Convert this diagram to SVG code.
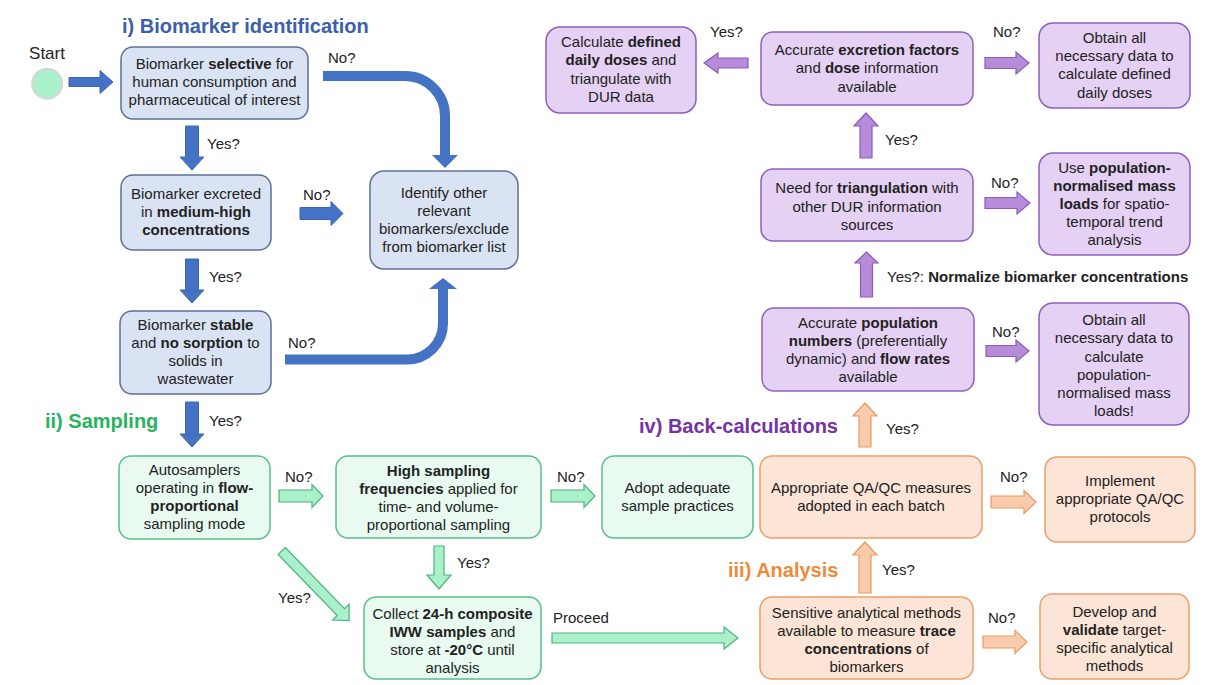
<svg xmlns="http://www.w3.org/2000/svg" width="1208" height="685" viewBox="0 0 1208 685">
  <style>
    text { font-family: "Liberation Sans", Arial, sans-serif; }
    .t { font-size: 15px; fill: #222; text-anchor: middle; }
    .l { font-size: 15px; fill: #222; }
    .b { font-weight: bold; }
    .h { font-size: 20px; font-weight: bold; }
    .bx-blue { fill: #DAE3F3; stroke: #5E7096; stroke-width: 1.5; }
    .bx-green { fill: #E9FBF1; stroke: #55C087; stroke-width: 1.5; }
    .bx-orange { fill: #FCE4D6; stroke: #EE9D68; stroke-width: 1.5; }
    .bx-purple { fill: #E4D1F4; stroke: #8C60BC; stroke-width: 1.5; }
    .ar-blue { fill: #4472C4; stroke: #3D67B4; stroke-width: 1; }
    .cv-blue { fill: none; stroke: #4472C4; stroke-width: 10; }
    .ar-green { fill: #A9F0CB; stroke: #4CB47C; stroke-width: 1.2; }
    .ar-orange { fill: #F8CBAD; stroke: #E99A62; stroke-width: 1.2; }
    .ar-purple { fill: #B88BDA; stroke: #8A5DBA; stroke-width: 1.2; }
  </style>

  <!-- section headings -->
  <text class="h" x="122" y="33" fill="#3D5FA9">i) Biomarker identification</text>
  <text class="h" x="45" y="428" fill="#27B35B">ii) Sampling</text>
  <text class="h" x="728" y="577" fill="#EE8A3A">iii) Analysis</text>
  <text class="h" x="639" y="433" fill="#7433A3">iv) Back-calculations</text>

  <!-- start node -->
  <g id="start">
    <text x="47" y="59" font-size="17" fill="#222" text-anchor="middle">Start</text>
    <circle cx="47.2" cy="83.8" r="15" fill="#AAF2CB" stroke="#D6D6D6" stroke-width="2"/>
  </g>

  <!-- connectors -->
  <g id="connectors">
    <!-- biomarker identification -->
    <polygon class="ar-blue" points="69,77.5 100,77.5 100,70.5 113,82 100,93.5 100,86.5 69,86.5"/>
    <polygon class="ar-blue" points="185.5,126 198.5,126 198.5,157 204,157 192,170 180,157 185.5,157"/>
    <polygon class="ar-blue" points="185.5,259 198.5,259 198.5,290 204,290 192,303 180,290 185.5,290"/>
    <polygon class="ar-blue" points="185.5,402 198.5,402 198.5,434 204,434 192,447 180,434 185.5,434"/>
    <polygon class="ar-blue" points="300,207.5 331,207.5 331,201.5 343,213.5 331,225.5 331,219.5 300,219.5"/>
    <path class="cv-blue" d="M323,76 H405 A40,40 0 0 1 445,116 V156"/>
    <polygon fill="#4472C4" points="432,155 458,155 445,168"/>
    <path class="cv-blue" d="M285,359.5 H407 A36,36 0 0 0 443,323.5 V287"/>
    <polygon fill="#4472C4" points="429,289 457,289 443,278"/>

    <!-- sampling -->
    <polygon class="ar-green" points="279,490 312,490 312,484.5 323,496 312,507.5 312,502 279,502"/>
    <polygon class="ar-green" points="551,490 584,490 584,484.5 595,496 584,507.5 584,502 551,502"/>
    <polygon class="ar-green" points="434,546 444,546 444,575 451,575 439,589 427,575 434,575"/>
    <polygon class="ar-green" transform="translate(281.7,551) rotate(45.9)" points="0,-5 85,-5 85,-11.5 97,0 85,11.5 85,5 0,5"/>
    <polygon class="ar-green" points="552,633 724,633 724,627 738,638 724,649 724,643 552,643"/>

    <!-- analysis -->
    <polygon class="ar-orange" points="991,496 1024,496 1024,490.5 1036,502 1024,513.5 1024,508 991,508"/>
    <polygon class="ar-orange" points="983,636 1015,636 1015,630.5 1027,642 1015,653.5 1015,648 983,648"/>
    <polygon class="ar-orange" points="859,593 871,593 871,555 877,555 865,542 853,555 859,555"/>
    <polygon class="ar-orange" points="859,447 871,447 871,416 877,416 865,403 853,416 859,416"/>

    <!-- back-calculations -->
    <polygon class="ar-purple" points="860.5,297 872.5,297 872.5,263 878,263 866.5,252 855,263 860.5,263"/>
    <polygon class="ar-purple" points="860,158 872,158 872,126 878,126 866,113 854,126 860,126"/>
    <polygon class="ar-purple" points="748,58 718,58 718,53 704,63 718,73 718,68 748,68"/>
    <polygon class="ar-purple" points="985,57.5 1016,57.5 1016,52 1029,63 1016,74 1016,68.5 985,68.5"/>
    <polygon class="ar-purple" points="985,197.5 1017,197.5 1017,192 1030,203 1017,214 1017,208.5 985,208.5"/>
    <polygon class="ar-purple" points="986,345.5 1016,345.5 1016,340 1029,351 1016,362 1016,356.5 986,356.5"/>

    <!-- connector labels -->
    <text class="l" x="328" y="63">No?</text>
    <text class="l" x="207" y="149">Yes?</text>
    <text class="l" x="303" y="200">No?</text>
    <text class="l" x="209" y="282">Yes?</text>
    <text class="l" x="288" y="348">No?</text>
    <text class="l" x="209" y="426">Yes?</text>
    <text class="l" x="285" y="482">No?</text>
    <text class="l" x="557" y="482">No?</text>
    <text class="l" x="457" y="568">Yes?</text>
    <text class="l" x="278" y="603">Yes?</text>
    <text class="l" x="553" y="623">Proceed</text>
    <text class="l" x="1000" y="482">No?</text>
    <text class="l" x="882" y="575">Yes?</text>
    <text class="l" x="988" y="623">No?</text>
    <text class="l" x="886" y="434">Yes?</text>
    <text class="l" x="992" y="337">No?</text>
    <text class="l" x="887" y="282">Yes?: <tspan class="b">Normalize biomarker concentrations</tspan></text>
    <text class="l" x="991" y="188">No?</text>
    <text class="l" x="885" y="145">Yes?</text>
    <text class="l" x="710" y="37">Yes?</text>
    <text class="l" x="993" y="37">No?</text>
  </g>

  <!-- i) biomarker identification -->
  <g id="selective">
    <rect class="bx-blue" x="121" y="47" width="187" height="72" rx="12"/>
    <text class="t" x="214.5" y="69">Biomarker <tspan class="b">selective</tspan> for</text>
    <text class="t" x="214.5" y="87">human consumption and</text>
    <text class="t" x="214.5" y="105">pharmaceutical of interest</text>
  </g>
  <g id="excreted">
    <rect class="bx-blue" x="121" y="175" width="150" height="75" rx="12"/>
    <text class="t" x="196" y="199">Biomarker excreted</text>
    <text class="t" x="196" y="217">in <tspan class="b">medium-high</tspan></text>
    <text class="t" x="196" y="235"><tspan class="b">concentrations</tspan></text>
  </g>
  <g id="stable">
    <rect class="bx-blue" x="120" y="311" width="151" height="83" rx="12"/>
    <text class="t" x="195.5" y="330">Biomarker <tspan class="b">stable</tspan></text>
    <text class="t" x="195.5" y="348">and <tspan class="b">no sorption</tspan> to</text>
    <text class="t" x="195.5" y="366">solids in</text>
    <text class="t" x="195.5" y="384">wastewater</text>
  </g>
  <g id="identify-other">
    <rect class="bx-blue" x="370" y="171" width="148" height="98" rx="14"/>
    <text class="t" x="444" y="198">Identify other</text>
    <text class="t" x="444" y="216">relevant</text>
    <text class="t" x="444" y="234">biomarkers/exclude</text>
    <text class="t" x="444" y="252">from biomarker list</text>
  </g>

  <!-- ii) sampling -->
  <g id="autosamplers">
    <rect class="bx-green" x="119" y="456" width="151" height="83" rx="12"/>
    <text class="t" x="194.5" y="475">Autosamplers</text>
    <text class="t" x="194.5" y="493">operating in <tspan class="b">flow-</tspan></text>
    <text class="t" x="194.5" y="511"><tspan class="b">proportional</tspan></text>
    <text class="t" x="194.5" y="529">sampling mode</text>
  </g>
  <g id="high-frequency">
    <rect class="bx-green" x="336" y="456" width="205" height="82" rx="12"/>
    <text class="t" x="438.5" y="476"><tspan class="b">High sampling</tspan></text>
    <text class="t" x="438.5" y="494"><tspan class="b">frequencies</tspan> applied for</text>
    <text class="t" x="438.5" y="512">time- and volume-</text>
    <text class="t" x="438.5" y="530">proportional sampling</text>
  </g>
  <g id="adopt-practices">
    <rect class="bx-green" x="602" y="456" width="151" height="82" rx="12"/>
    <text class="t" x="677.5" y="493">Adopt adequate</text>
    <text class="t" x="677.5" y="511">sample practices</text>
  </g>
  <g id="collect-samples">
    <rect class="bx-green" x="364" y="597" width="177" height="82" rx="12"/>
    <text class="t" x="452.5" y="619">Collect <tspan class="b">24-h composite</tspan></text>
    <text class="t" x="452.5" y="637"><tspan class="b">IWW samples</tspan> and</text>
    <text class="t" x="452.5" y="655">store at <tspan class="b">-20°C</tspan> until</text>
    <text class="t" x="452.5" y="673">analysis</text>
  </g>

  <!-- iii) analysis -->
  <g id="qaqc-measures">
    <rect class="bx-orange" x="760" y="456" width="222" height="82" rx="12"/>
    <text class="t" x="871" y="493">Appropriate QA/QC measures</text>
    <text class="t" x="871" y="511">adopted in each batch</text>
  </g>
  <g id="qaqc-protocols">
    <rect class="bx-orange" x="1045" y="457" width="150" height="85" rx="12"/>
    <text class="t" x="1120" y="486">Implement</text>
    <text class="t" x="1120" y="504">appropriate QA/QC</text>
    <text class="t" x="1120" y="522">protocols</text>
  </g>
  <g id="sensitive-methods">
    <rect class="bx-orange" x="760" y="597" width="213" height="82" rx="12"/>
    <text class="t" x="866.5" y="618">Sensitive analytical methods</text>
    <text class="t" x="866.5" y="636">available to measure <tspan class="b">trace</tspan></text>
    <text class="t" x="866.5" y="654"><tspan class="b">concentrations</tspan> of</text>
    <text class="t" x="866.5" y="672">biomarkers</text>
  </g>
  <g id="develop-validate">
    <rect class="bx-orange" x="1040" y="594" width="149" height="85" rx="12"/>
    <text class="t" x="1114.5" y="617">Develop and</text>
    <text class="t" x="1114.5" y="635"><tspan class="b">validate</tspan> target-</text>
    <text class="t" x="1114.5" y="653">specific analytical</text>
    <text class="t" x="1114.5" y="671">methods</text>
  </g>

  <!-- iv) back-calculations -->
  <g id="population-flow">
    <rect class="bx-purple" x="762" y="308" width="212" height="83" rx="12"/>
    <text class="t" x="868" y="328">Accurate <tspan class="b">population</tspan></text>
    <text class="t" x="868" y="346"><tspan class="b">numbers</tspan> (preferentially</text>
    <text class="t" x="868" y="364">dynamic) and <tspan class="b">flow rates</tspan></text>
    <text class="t" x="868" y="382">available</text>
  </g>
  <g id="obtain-population-data">
    <rect class="bx-purple" x="1039" y="303" width="150" height="122" rx="14"/>
    <text class="t" x="1114" y="325">Obtain all</text>
    <text class="t" x="1114" y="343">necessary data to</text>
    <text class="t" x="1114" y="361.5">calculate</text>
    <text class="t" x="1114" y="379.5">population-</text>
    <text class="t" x="1114" y="398">normalised mass</text>
    <text class="t" x="1114" y="416">loads!</text>
  </g>
  <g id="triangulation">
    <rect class="bx-purple" x="761" y="169" width="212" height="72" rx="12"/>
    <text class="t" x="867" y="193">Need for <tspan class="b">triangulation</tspan> with</text>
    <text class="t" x="867" y="211.5">other DUR information</text>
    <text class="t" x="867" y="230">sources</text>
  </g>
  <g id="mass-loads">
    <rect class="bx-purple" x="1039" y="153" width="151" height="102" rx="14"/>
    <text class="t" x="1114.5" y="173">Use <tspan class="b">population-</tspan></text>
    <text class="t" x="1114.5" y="191"><tspan class="b">normalised mass</tspan></text>
    <text class="t" x="1114.5" y="209"><tspan class="b">loads</tspan> for spatio-</text>
    <text class="t" x="1114.5" y="227">temporal trend</text>
    <text class="t" x="1114.5" y="245">analysis</text>
  </g>
  <g id="excretion-dose">
    <rect class="bx-purple" x="761" y="32" width="212" height="73" rx="12"/>
    <text class="t" x="867" y="55">Accurate <tspan class="b">excretion factors</tspan></text>
    <text class="t" x="867" y="73">and <tspan class="b">dose</tspan> information</text>
    <text class="t" x="867" y="92">available</text>
  </g>
  <g id="defined-daily-doses">
    <rect class="bx-purple" x="546" y="27" width="150" height="86" rx="14"/>
    <text class="t" x="621" y="47">Calculate <tspan class="b">defined</tspan></text>
    <text class="t" x="621" y="65"><tspan class="b">daily doses</tspan> and</text>
    <text class="t" x="621" y="83.5">triangulate with</text>
    <text class="t" x="621" y="102">DUR data</text>
  </g>
  <g id="obtain-dose-data">
    <rect class="bx-purple" x="1039" y="23" width="151" height="85" rx="14"/>
    <text class="t" x="1114.5" y="42.5">Obtain all</text>
    <text class="t" x="1114.5" y="61">necessary data to</text>
    <text class="t" x="1114.5" y="79">calculate defined</text>
    <text class="t" x="1114.5" y="97.5">daily doses</text>
  </g>
</svg>
